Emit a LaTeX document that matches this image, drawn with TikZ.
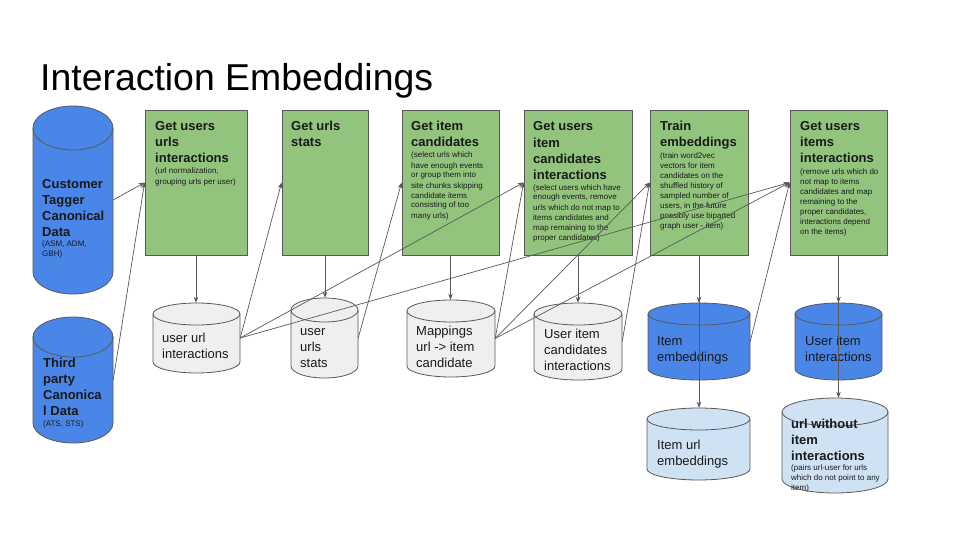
\documentclass[tikz,border=0pt]{standalone}
\usepackage{fontspec}
\setmainfont{Liberation Sans}
\usetikzlibrary{arrows.meta,fit}
\definecolor{boxgreen}{HTML}{93C47D}
\definecolor{dbblue}{HTML}{4A86E8}
\definecolor{lblue}{HTML}{CFE2F3}
\definecolor{lgray}{HTML}{EFEFEF}
\definecolor{edgecol}{HTML}{595959}
\definecolor{txt}{HTML}{1A1A1A}
\tikzset{
  procbox/.style={draw=edgecol, fill=boxgreen, line width=0.8pt, inner sep=0pt},
  cylline/.style={draw=edgecol, line width=0.8pt},
  head/.style={anchor=base west, align=left, inner sep=0pt, text=txt, font=\bfseries\fontsize{13}{16}\selectfont},
  note/.style={anchor=base west, align=left, inner sep=0pt, text=txt, font=\fontsize{8}{10}\selectfont},
  body/.style={anchor=base west, align=left, inner sep=0pt, text=txt, font=\fontsize{13}{16}\selectfont},
  conn/.style={draw=edgecol, line width=0.7pt, -{Stealth[length=6pt,width=4.5pt]}},
}
\newcommand{\cylnode}[7]{%
  \pgfmathsetmacro{\crx}{(#4-#2)/2}%
  \path[cylline, fill=#7] (#2,#3+#6) -- (#2,#5-#6)
    arc[start angle=180,end angle=360,x radius=\crx pt,y radius=#6pt]
    -- (#4,#3+#6)
    arc[start angle=0,end angle=180,x radius=\crx pt,y radius=#6pt] -- cycle;
  \draw[cylline] (#2,#3+#6)
    arc[start angle=180,end angle=360,x radius=\crx pt,y radius=#6pt];
  \node[inner sep=0pt, fit={(#2,#3) (#4,#5)}] (#1) {};
}
\begin{document}
\begin{tikzpicture}[x=1pt,y=-1pt]
\useasboundingbox (0,0) rectangle (960,540);
\fill[white] (0,0) rectangle (960,540);

\node[anchor=base west, inner sep=0pt, text=black, font=\fontsize{37.4}{40}\selectfont] (title) at (40,91) {Interaction Embeddings};

% source cylinders
\cylnode{cust}{33}{106}{113}{294}{22}{dbblue}
\cylnode{third}{33}{317}{113}{443}{20}{dbblue}

% process boxes
\node[procbox, fit={(145,110) (247,255)}] (b1) {};
\node[procbox, fit={(282,110) (368,255)}] (b2) {};
\node[procbox, fit={(402,110) (499,255)}] (b3) {};
\node[procbox, fit={(524,110) (632,255)}] (b4) {};
\node[procbox, fit={(650,110) (748,255)}] (b5) {};
\node[procbox, fit={(790,110) (887,255)}] (b6) {};

% data cylinders
\cylnode{c1}{153}{303}{240}{373}{11}{lgray}
\cylnode{c2}{291}{298}{358}{378}{12}{lgray}
\cylnode{c3}{407}{300}{495}{377}{11}{lgray}
\cylnode{c4}{534}{303}{622}{380}{11}{lgray}
\cylnode{c5}{648}{303}{750}{380}{11}{dbblue}
\cylnode{c6}{795}{303}{882}{380}{11}{dbblue}
\cylnode{c7}{647}{408}{750}{480}{11}{lblue}
\cylnode{c8}{782}{398}{888}{493}{14}{lblue}

% texts (anchor = baseline of the last line)
\node[head] (custh) at (42,236) {Customer\\Tagger\\Canonical\\Data};
\node[note] (custn) at (42,256) {(ASM, ADM,\\GBH)};
\node[head] (thirdh) at (43,415) {Third\\party\\Canonica\\l Data};
\node[note] (thirdn) at (43,426) {(ATS, STS)};

\node[head] (b1h) at (155,163) {Get users\\urls\\interactions};
\node[note] (b1n) at (155,184) {(url normalization,\\grouping urls per user)};
\node[head] (b2h) at (291,147) {Get urls\\stats};
\node[head] (b3h) at (411,147) {Get item\\candidates};
\node[note] (b3n) at (411,218) {(select urls which\\have enough events\\or group them into\\site chunks skipping\\candidate items\\consisting of too\\many urls)};
\node[head] (b4h) at (533,179) {Get users\\item\\candidates\\interactions};
\node[note] (b4n) at (533,240) {(select users which have\\enough events, remove\\urls which do not map to\\items candidates and\\map remaining to the\\proper candidates)};
\node[head] (b5h) at (660,147) {Train\\embeddings};
\node[note] (b5n) at (660,228) {(train word2vec\\vectors for item\\candidates on the\\shuffled history of\\sampled number of\\users, in the future\\possibly use biparted\\graph user - item)};
\node[head] (b6h) at (800,163) {Get users\\items\\interactions};
\node[note] (b6n) at (800,234) {(remove urls which do\\not map to items\\candidates and map\\remaining to the\\proper candidates,\\interactions depend\\on the items)};

\node[body] (c1t) at (162,358) {user url\\interactions};
\node[body] (c2t) at (300,367) {user\\urls\\stats};
\node[body] (c3t) at (416,367) {Mappings\\url -> item\\candidate};
\node[body] (c4t) at (544,370) {User item\\candidates\\interactions};
\node[body] (c5t) at (657,361) {Item\\embeddings};
\node[body] (c6t) at (805,361) {User item\\interactions};
\node[body] (c7t) at (657,465) {Item url\\embeddings};
\node[head] (c8h) at (791,460) {url without\\item\\interactions};
\node[note] (c8n) at (791,490) {(pairs url-user for urls\\which do not point to any\\item)};

% connectors
\draw[conn] (cust.east) -- (b1.west);
\draw[conn] (third.east) -- (b1.west);
\draw[conn] (b1.south) -- (b1.south |- c1.north);
\draw[conn] (c1.east) -- (b2.west);
\draw[conn] (c1.east) -- (b4.west);
\draw[conn] (c1.east) -- (b6.west);
\draw[conn] (b2.south) -- (b2.south |- c2.north);
\draw[conn] (c2.east) -- (b3.west);
\draw[conn] (b3.south) -- (b3.south |- c3.north);
\draw[conn] (c3.east) -- (b4.west);
\draw[conn] (c3.east) -- (b5.west);
\draw[conn] (c3.east) -- (b6.west);
\draw[conn] (b4.south) -- (b4.south |- c4.north);
\draw[conn] (c4.east) -- (b5.west);
\draw[conn] (b5.south) -- (b5.south |- c5.north);
\draw[conn] (b5.south) -- (b5.south |- c7.north);
\draw[conn] (c5.east) -- (b6.west);
\draw[conn] (b6.south) -- (b6.south |- c6.north);
\draw[conn] (b6.south) -- (b6.south |- c8.north);
\end{tikzpicture}
\end{document}
